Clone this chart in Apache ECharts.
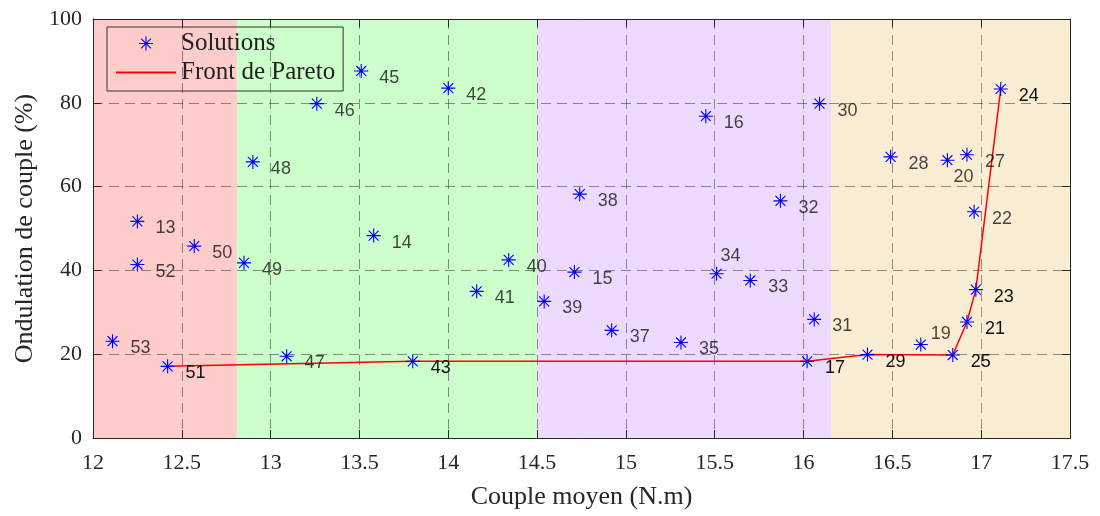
<!DOCTYPE html>
<html>
<head>
<meta charset="utf-8">
<script src="https://cdn.jsdelivr.net/npm/echarts@6/dist/echarts.min.js"></script>
<style>html,body{margin:0;padding:0;background:#fff;}#chart{width:1100px;height:516px;}</style>
</head>
<body>
<div id="chart"></div>
<script>
// ---- data ----
const solutionIds = [13,14,15,16,17,19,20,21,22,23,24,25,27,28,29,30,31,32,33,34,35,37,38,39,40,41,42,43,45,46,47,48,49,50,51,52,53];
const coupleMoyen = [12.25,13.58,14.71,15.45,16.02,16.66,16.81,16.92,16.96,16.97,17.11,16.84,16.92,16.49,16.36,16.09,16.06,15.87,15.70,15.51,15.31,14.92,14.74,14.54,14.34,14.16,14.00,13.80,13.51,13.26,13.09,12.90,12.85,12.57,12.42,12.25,12.11];
const ondulation = [51.7,48.3,39.6,76.8,18.3,22.3,66.3,27.7,54.0,35.4,83.3,19.8,67.6,67.1,19.9,79.8,28.3,56.6,37.6,39.2,22.8,25.7,58.2,32.6,42.5,35.0,83.5,18.3,87.6,79.8,19.5,65.9,41.8,45.8,17.1,41.4,23.1];
const paretoIds = [51,43,17,29,25,21,23,24];
const regionBounds = [12, 12.81, 14.5, 16.155, 17.5];
const regionColors = ['#FFCCCC','#CCFFCC','#EEDAFF','#F9EDD4'];
const xTicks = [12,12.5,13,13.5,14,14.5,15,15.5,16,16.5,17,17.5];
const yTicks = [0,20,40,60,80,100];

// ---- build ----
const STAR = 'path://M-0.8,-10L0.8,-10L0.8,10L-0.8,10ZM-10,-0.8L10,-0.8L10,0.8L-10,0.8Z' +
  'M-6.505,-7.637L7.637,6.505L6.505,7.637L-7.637,-6.505Z' +
  'M-7.637,6.505L6.505,-7.637L7.637,-6.505L-6.505,7.637Z';
const labelPos = {34:[11,-11], 20:[13,24], 19:[17,-4]};
const scatterData = solutionIds.map((id,i) => {
  const item = {value:[coupleMoyen[i], ondulation[i], id], label:{position: labelPos[id] || [25,14]}};
  if (paretoIds.indexOf(id) >= 0) item.label.color = '#111';
  return item;
});
const paretoData = paretoIds.map(id => {
  const i = solutionIds.indexOf(id);
  return [coupleMoyen[i], ondulation[i]];
});
const areas = regionColors.map((c,i) => [
  {xAxis: regionBounds[i], yAxis: yTicks[0], itemStyle:{color:c}},
  {xAxis: regionBounds[i+1], yAxis: yTicks[yTicks.length-1]}
]);

const axisCol = '#262626';
const gridLine = {show:true, lineStyle:{color:'rgba(38,38,38,0.5)', type:[10,6], width:1}};
const serif = 'Liberation Serif';
const AZ = 1.6;
const chart = echarts.init(document.getElementById('chart'), null, {renderer:'canvas'});
chart.setOption({
  animation:false,
  grid:{left:93, right:30, top:19, bottom:78},
  legend:{
    data:['Solutions', {name:'Front de Pareto', itemStyle:{opacity:0}}],
    orient:'vertical', left:107, top:27, z:10,
    borderColor:'#333', borderWidth:1, padding:[4,8,6,8], itemGap:4,
    itemWidth:60, itemHeight:14,
    textStyle:{fontFamily:serif, fontSize:25, color:'#222'},
    backgroundColor:'transparent'
  },
  xAxis:[{
    type:'value', min:12, max:17.5, interval:0.5, z:AZ,
    name:'Couple moyen (N.m)', nameLocation:'middle', nameGap:46,
    nameTextStyle:{fontFamily:serif, fontSize:26, color:axisCol},
    axisLine:{show:true, onZero:false, lineStyle:{color:axisCol}},
    axisTick:{show:true, inside:true, length:8, lineStyle:{color:axisCol}},
    axisLabel:{fontFamily:serif, fontSize:22, color:axisCol, margin:14, formatter: v => String(v)},
    splitLine:gridLine
  },{
    type:'value', min:12, max:17.5, interval:0.5, position:'top', z:AZ,
    axisLine:{show:true, onZero:false, lineStyle:{color:axisCol}},
    axisTick:{show:true, inside:true, length:8, lineStyle:{color:axisCol}},
    axisLabel:{show:false}, splitLine:{show:false}
  }],
  yAxis:[{
    type:'value', min:0, max:100, interval:20, z:AZ,
    name:'Ondulation de couple (%)', nameLocation:'middle', nameGap:53,
    nameTextStyle:{fontFamily:serif, fontSize:26, color:axisCol},
    axisLine:{show:true, onZero:false, lineStyle:{color:axisCol}},
    axisTick:{show:true, inside:true, length:8, lineStyle:{color:axisCol}},
    axisLabel:{fontFamily:serif, fontSize:22, color:axisCol, margin:11},
    splitLine:gridLine
  },{
    type:'value', min:0, max:100, interval:20, position:'right', z:AZ,
    axisLine:{show:true, onZero:false, lineStyle:{color:axisCol}},
    axisTick:{show:true, inside:true, length:8, lineStyle:{color:axisCol}},
    axisLabel:{show:false}, splitLine:{show:false}
  }],
  series:[
    {
      type:'scatter', z:1, data:[], silent:true,
      markArea:{silent:true, data:areas, itemStyle:{opacity:1}}
    },
    {
      name:'Front de Pareto', type:'line', data:paretoData, symbol:'none', z:3,
      lineStyle:{color:'#ff0000', width:1.5}, itemStyle:{color:'#ff0000'}
    },
    {
      name:'Solutions', type:'scatter', data:scatterData, symbol:STAR, symbolSize:14, z:4,
      itemStyle:{color:'#0000ff', opacity:1},
      label:{show:true, formatter: p => String(p.value[2]), align:'left', verticalAlign:'middle',
        fontFamily:'Liberation Sans', fontSize:18, color:'rgba(0,0,0,0.72)'}
    }
  ]
});
</script>
</body>
</html>
